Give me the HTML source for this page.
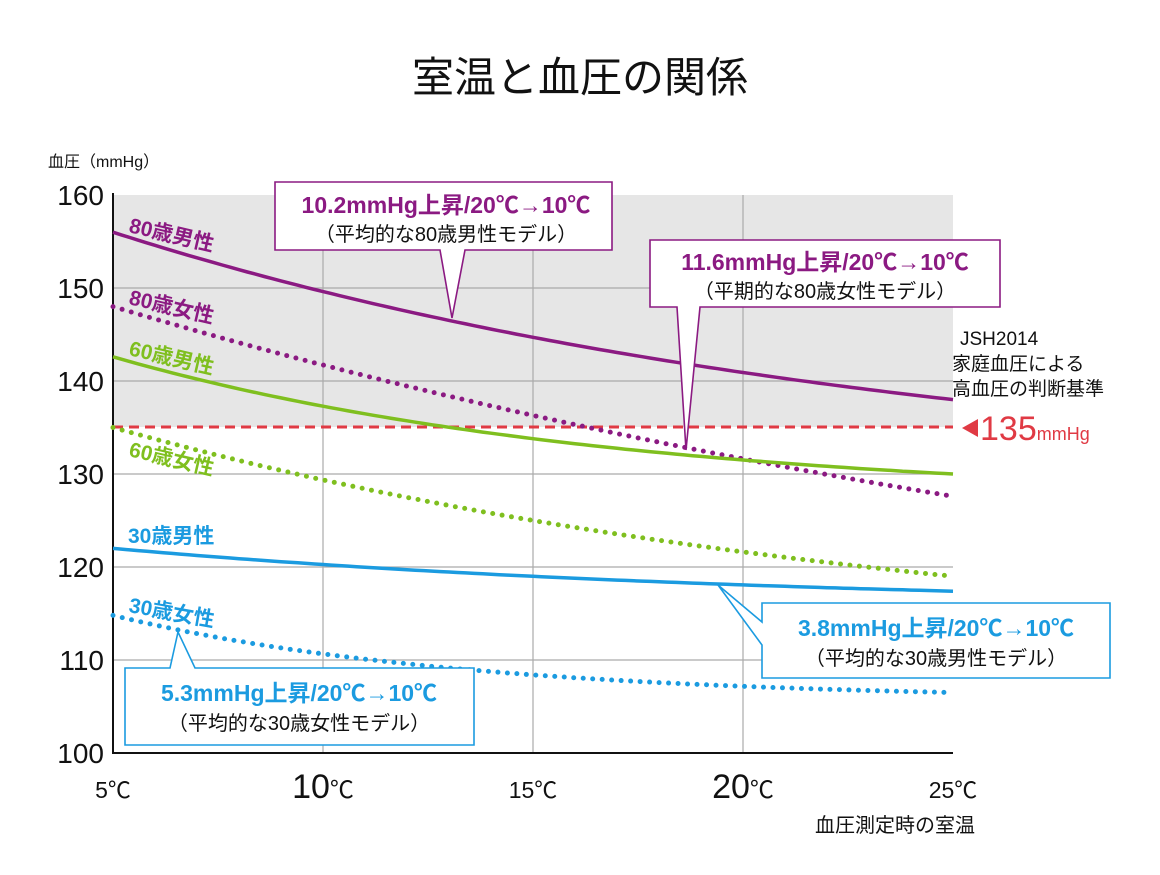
<!DOCTYPE html>
<html><head><meta charset="utf-8"><style>
body{margin:0;background:#fff;}
svg text{font-family:"Liberation Sans","Noto Sans CJK JP",sans-serif;}
</style></head><body>
<svg id="s" width="1160" height="870" xmlns="http://www.w3.org/2000/svg">
<rect x="113" y="195" width="840" height="232" fill="#e6e6e6"/>
<g stroke="#aaa" stroke-width="1.2">
<line x1="113" y1="288" x2="953" y2="288"/><line x1="113" y1="381" x2="953" y2="381"/>
<line x1="113" y1="474" x2="953" y2="474"/><line x1="113" y1="567" x2="953" y2="567"/>
<line x1="113" y1="660" x2="953" y2="660"/>
<line x1="323" y1="195" x2="323" y2="753"/><line x1="533" y1="195" x2="533" y2="753"/><line x1="743" y1="195" x2="743" y2="753"/>
</g>
<line x1="113" y1="193" x2="113" y2="754" stroke="#111" stroke-width="2"/>
<line x1="112" y1="753" x2="953" y2="753" stroke="#111" stroke-width="2"/>
<line x1="113" y1="427" x2="953" y2="427" stroke="#e03a44" stroke-width="3" stroke-dasharray="10,6"/>
<g id="curves"></g>
<g font-size="28" fill="#111" text-anchor="end">
<text x="104" y="205">160</text><text x="104" y="298">150</text><text x="104" y="391">140</text>
<text x="104" y="484">130</text><text x="104" y="577">120</text><text x="104" y="670">110</text><text x="104" y="763">100</text>
</g>
<g fill="#111" text-anchor="middle">
<text x="113" y="798" font-size="23">5℃</text>
<text x="323" y="798" font-size="34">10<tspan font-size="24">℃</tspan></text>
<text x="533" y="798" font-size="23">15℃</text>
<text x="743" y="798" font-size="34">20<tspan font-size="24">℃</tspan></text>
<text x="953" y="798" font-size="23">25℃</text>
</g>
<text x="815" y="832" font-size="20" fill="#111">血圧測定時の室温</text>
<text x="48" y="167" font-size="16" fill="#111">血圧（mmHg）</text>
<text x="580" y="92" font-size="42" fill="#111" text-anchor="middle">室温と血圧の関係</text>
<g font-size="19" fill="#111"><text x="960" y="345">JSH2014</text><text x="952" y="370">家庭血圧による</text><text x="952" y="395">高血圧の判断基準</text></g>
<polygon points="962,428 978,419 978,437" fill="#e03a44"/>
<text x="980" y="440" font-size="34" fill="#e03a44">135<tspan font-size="18">mmHg</tspan></text>
<g font-size="21" font-weight="bold">
<text transform="translate(128,232) rotate(13)" fill="#8b1a82">80歳男性</text>
<text transform="translate(128,304) rotate(13)" fill="#8b1a82">80歳女性</text>
<text transform="translate(128,355) rotate(13)" fill="#7fbf1f">60歳男性</text>
<text transform="translate(128,456) rotate(13)" fill="#7fbf1f">60歳女性</text>
<text x="128" y="543" fill="#1b9be0">30歳男性</text>
<text transform="translate(128,612) rotate(10)" fill="#1b9be0">30歳女性</text>
</g>
<path d="M275,182 H612 V250 H465 L452,318 L440,250 H275 Z" fill="#fff" stroke="#8b1a82" stroke-width="1.6"/>
<text x="446" y="213" font-size="23" font-weight="bold" fill="#8b1a82" text-anchor="middle">10.2mmHg上昇/20℃→10℃</text>
<text x="446" y="241" font-size="20" fill="#111" text-anchor="middle">（平均的な80歳男性モデル）</text>
<path d="M650,240 H1000 V307 H700 L686,450 L677,307 H650 Z" fill="#fff" stroke="#8b1a82" stroke-width="1.6"/>
<text x="825" y="270" font-size="23" font-weight="bold" fill="#8b1a82" text-anchor="middle">11.6mmHg上昇/20℃→10℃</text>
<text x="825" y="298" font-size="20" fill="#111" text-anchor="middle">（平期的な80歳女性モデル）</text>
<path d="M762,603 H1110 V678 H762 V645 L718,585 L762,622 Z" fill="#fff" stroke="#1b9be0" stroke-width="1.6"/>
<text x="936" y="636" font-size="23" font-weight="bold" fill="#1b9be0" text-anchor="middle">3.8mmHg上昇/20℃→10℃</text>
<text x="936" y="665" font-size="20" fill="#111" text-anchor="middle">（平均的な30歳男性モデル）</text>
<path d="M125,668 H170 L178,632 L195,668 H474 V745 H125 Z" fill="#fff" stroke="#1b9be0" stroke-width="1.6"/>
<text x="299" y="701" font-size="23" font-weight="bold" fill="#1b9be0" text-anchor="middle">5.3mmHg上昇/20℃→10℃</text>
<text x="299" y="730" font-size="20" fill="#111" text-anchor="middle">（平均的な30歳女性モデル）</text>
</svg>
<script>
var g=document.getElementById('curves');
var C=[[156,144.7,138,'#8b1a82',0],[148,136.3,127.6,'#8b1a82',1],[142.6,133.8,130,'#7fbf1f',0],[135,125,119,'#7fbf1f',1],[122,119,117.4,'#1b9be0',0],[114.8,108.4,106.5,'#1b9be0',1]];
C.forEach(function(c){var r=(c[1]-c[2])/(c[0]-c[1]);var k=-2*Math.log(r);var E=Math.exp(-k);var d='';
for(var i=0;i<=100;i++){var t=i/100;var v=c[2]+(c[0]-c[2])*(Math.exp(-k*t)-E)/(1-E);var x=113+840*t,y=195+(160-v)*9.3;d+=(i?'L':'M')+x.toFixed(1)+','+y.toFixed(1);}
var p=document.createElementNS('http://www.w3.org/2000/svg','path');p.setAttribute('d',d);p.setAttribute('fill','none');p.setAttribute('stroke',c[3]);
if(c[4]){p.setAttribute('stroke-width','5');p.setAttribute('stroke-dasharray','0,9.5');p.setAttribute('stroke-linecap','round');}else p.setAttribute('stroke-width','3.5');
g.appendChild(p);});
</script>
</body></html>
